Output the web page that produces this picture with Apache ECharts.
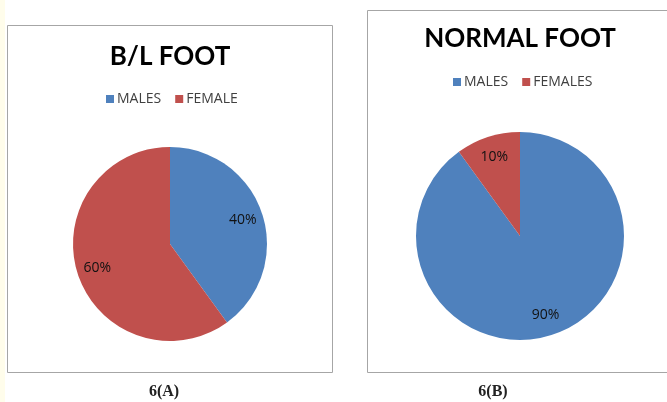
<!DOCTYPE html>
<html>
<head>
<meta charset="utf-8">
<script src="https://cdn.jsdelivr.net/npm/echarts@6/dist/echarts.min.js"></script>
<style>
  html, body { margin: 0; padding: 0; background: #fff; }
  #chart { width: 667px; height: 402px; }
</style>
</head>
<body>
<div id="chart"></div>
<script>
// panel A: B/L foot
const blCategories = ['MALES', 'FEMALE'];
const blValues = [40, 60];
// panel B: normal foot
const normalCategories = ['MALES', 'FEMALES'];
const normalValues = [90, 10];

const titles = ['B/L FOOT', 'NORMAL FOOT'];
const captions = ['6(A)', '6(B)'];

const BLUE = '#4F81BD';
const RED = '#C0504D';

const chart = echarts.init(document.getElementById('chart'));

function toData(names, values) {
  return names.map((n, i) => ({
    name: n,
    value: values[i],
    itemStyle: { color: i === 0 ? BLUE : RED },
  }));
}

function labelRing(names, values, center, r0, r) {
  // transparent ring, only used to place the % labels further out
  return {
    type: 'pie',
    silent: true,
    legendHoverLink: false,
    center: center,
    radius: [r0, r],
    startAngle: 90,
    itemStyle: { color: 'rgba(0,0,0,0)' },
    label: {
      show: true,
      position: 'inside',
      formatter: '{c}%',
      color: '#111',
      fontSize: 14,
      fontFamily: 'Open Sans, sans-serif',
    },
    labelLine: { show: false },
    data: names.map((n, i) => ({ name: n, value: values[i] })),
  };
}

const option = {
  backgroundColor: '#fff',
  animation: false,
  title: [
    {
      text: titles[0], left: 170, top: 57, padding: 0,
      textAlign: 'center', textVerticalAlign: 'middle',
      textStyle: { fontSize: 26, fontWeight: 'bold', color: '#000', fontFamily: 'Lato, sans-serif' },
    },
    {
      text: titles[1], left: 520, top: 39, padding: 0,
      textAlign: 'center', textVerticalAlign: 'middle',
      textStyle: { fontSize: 26, fontWeight: 'bold', color: '#000', fontFamily: 'Lato, sans-serif' },
    },
    {
      text: captions[0], left: 164, top: 392, padding: 0,
      textAlign: 'center', textVerticalAlign: 'middle',
      textStyle: { fontSize: 16, fontWeight: 'bold', color: '#222', fontFamily: 'Liberation Serif, serif' },
    },
    {
      text: captions[1], left: 493, top: 392, padding: 0,
      textAlign: 'center', textVerticalAlign: 'middle',
      textStyle: { fontSize: 16, fontWeight: 'bold', color: '#222', fontFamily: 'Liberation Serif, serif' },
    },
  ],
  legend: [
    {
      data: blCategories,
      left: 106, top: 92, padding: 0,
      icon: 'rect', itemWidth: 8, itemHeight: 8, itemGap: 14,
      selectedMode: false,
      textStyle: { fontSize: 14, color: '#404040', fontFamily: 'Open Sans, sans-serif', padding: [0, 0, 0, -2] },
    },
    {
      data: normalCategories,
      left: 453, top: 75, padding: 0,
      icon: 'rect', itemWidth: 8, itemHeight: 8, itemGap: 14,
      selectedMode: false,
      textStyle: { fontSize: 14, color: '#404040', fontFamily: 'Open Sans, sans-serif', padding: [0, 0, 0, -2] },
    },
  ],
  graphic: [
    { type: 'rect', shape: { x: 0, y: 0, width: 5, height: 402 }, style: { fill: '#FFFDEB' }, silent: true },
    { type: 'rect', shape: { x: 7.5, y: 25.5, width: 325, height: 347 }, style: { fill: 'none', stroke: '#A6A6A6', lineWidth: 1 }, silent: true },
    { type: 'rect', shape: { x: 367.5, y: 10.5, width: 340, height: 362 }, style: { fill: 'none', stroke: '#A6A6A6', lineWidth: 1 }, silent: true },
  ],
  series: [
    {
      type: 'pie',
      center: [170, 244],
      radius: [0, 97],
      startAngle: 90,
      label: { show: false },
      labelLine: { show: false },
      data: toData(blCategories, blValues),
    },
    {
      type: 'pie',
      center: [520, 236],
      radius: [0, 104],
      startAngle: 90,
      label: { show: false },
      labelLine: { show: false },
      data: toData(normalCategories, normalValues),
    },
    labelRing(blCategories, blValues, [170, 244], 50, 97),
    labelRing(normalCategories, normalValues, [520, 236], 56, 104),
  ],
};

chart.setOption(option);
</script>
</body>
</html>
